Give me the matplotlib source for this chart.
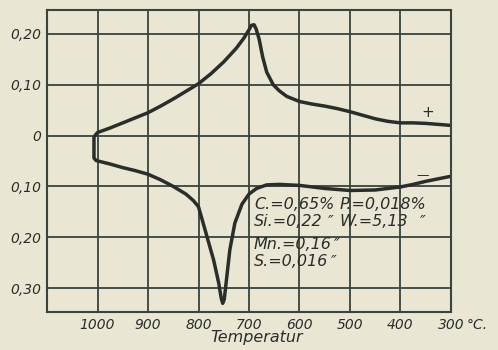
import matplotlib

matplotlib.use("Agg")
import matplotlib.pyplot as plt
from matplotlib.ticker import FuncFormatter

# upper branch (+), temperature in deg C
upper_temp = [1005, 1000, 975, 950, 925, 900, 875, 850, 825, 800, 775, 750,
              725, 710, 700, 695, 690, 686, 680, 673, 665, 652, 640, 625,
              600, 575, 550, 525, 500, 475, 450, 425, 400, 375, 350, 325, 300]
upper_val = [0.000, 0.006, 0.015, 0.025, 0.035, 0.045, 0.058, 0.072, 0.087,
             0.102, 0.122, 0.145, 0.172, 0.192, 0.208, 0.217, 0.218, 0.210,
             0.190, 0.155, 0.125, 0.100, 0.088, 0.077, 0.067, 0.062, 0.058,
             0.053, 0.047, 0.040, 0.033, 0.028, 0.025, 0.025, 0.024, 0.022,
             0.020]

# lower branch (-), plotted below zero
lower_temp = [1007, 1007, 1003, 975, 950, 925, 900, 875, 850, 825, 810, 800,
              790, 780, 770, 760, 755, 752, 749, 744, 738, 728, 714, 700,
              685, 665, 640, 600, 550, 500, 450, 400, 375, 350, 325, 300]
lower_val = [-0.003, -0.044, -0.049, -0.056, -0.063, -0.069, -0.076, -0.087,
             -0.100, -0.115, -0.128, -0.140, -0.175, -0.210, -0.245, -0.290,
             -0.320, -0.330, -0.322, -0.278, -0.225, -0.172, -0.135, -0.115,
             -0.104, -0.097, -0.096, -0.098, -0.104, -0.108, -0.107, -0.101,
             -0.096, -0.090, -0.085, -0.080]

x_ticks = [1000, 900, 800, 700, 600, 500, 400, 300]
y_ticks = [0.20, 0.10, 0.0, -0.10, -0.20, -0.30]

# analysis notes: (text, temperature, value) anchors
composition = [
    ("C.=0,65%", 690, -0.135),
    ("P.=0,018%", 520, -0.135),
    ("Si.=0,22", 690, -0.169),
    ("W.=5,13", 520, -0.169),
    ("Mn.=0,16", 690, -0.214),
    ("S.=0,016", 690, -0.247),
]
dittos = [(538, -0.169), (355, -0.169), (526, -0.214), (532, -0.247)]

PAPER = "#e9e6d3"
INK = "#2a2e2b"
GRID = "#39443c"

fig = plt.figure(figsize=(4.98, 3.5), dpi=100, facecolor=PAPER)
ax = fig.add_axes([0.0944, 0.1086, 0.8112, 0.8628], facecolor=PAPER)

ax.plot(upper_temp, upper_val, color=INK, linewidth=2.5, solid_capstyle="round")
ax.plot(lower_temp, lower_val, color=INK, linewidth=2.5, solid_capstyle="round")

ax.set_xlim(1100, 300)
ax.set_ylim(-0.347, 0.247)

ax.set_xticks(x_ticks)
ax.set_xticklabels([str(t) for t in x_ticks])
ax.set_yticks(y_ticks)
ax.yaxis.set_major_formatter(
    FuncFormatter(lambda v, _: "0" if abs(v) < 1e-9 else f"{abs(v):.2f}".replace(".", ","))
)
ax.grid(True, color=GRID, linewidth=1.3)
ax.set_axisbelow(True)
for s in ax.spines.values():
    s.set_color(GRID)
    s.set_linewidth(1.5)
ax.tick_params(length=0, pad=4, colors=INK)
for lab in ax.get_xticklabels() + ax.get_yticklabels():
    lab.set_fontstyle("italic")
    lab.set_fontsize(10)

ax.annotate("\u00b0C.", xy=(300, -0.347), xycoords="data", xytext=(11, -4),
            textcoords="offset points", ha="left", va="top",
            fontsize=10, fontstyle="italic", color=INK, annotation_clip=False)
ax.text(0.52, -0.086, "Temperatur", transform=ax.transAxes, fontsize=11.5,
        fontstyle="italic", color=INK, ha="center", va="center")

ax.text(346, 0.045, "+", fontsize=11, color=INK, ha="center", va="center")
ax.text(357, -0.079, "\u2014", fontsize=9, color=INK, ha="center", va="center")

for txt, tx, ty in composition:
    ax.text(tx, ty, txt, fontsize=11.5, fontstyle="italic", color=INK,
            ha="left", va="center")
for tx, ty in dittos:
    ax.text(tx, ty, "\u2033", fontsize=11, fontstyle="italic", color=INK,
            ha="center", va="center")

fig.savefig("out.png", dpi=100, facecolor=PAPER)
